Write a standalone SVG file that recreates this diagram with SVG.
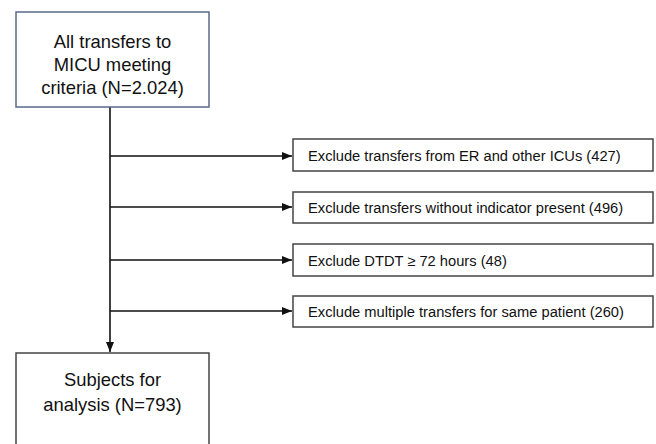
<svg xmlns="http://www.w3.org/2000/svg" width="656" height="444" viewBox="0 0 656 444">
<defs>
<marker id="ah" markerWidth="10" markerHeight="8" refX="10" refY="4" orient="auto" markerUnits="userSpaceOnUse">
<path d="M0,0 L10,4 L0,8 Z" fill="#111"/>
</marker>
<style>
.box{fill:#fff;stroke:#444;stroke-width:1.5}
.t{font-family:"Liberation Sans",Arial,sans-serif;fill:#111}
.big{font-size:18.4px;text-anchor:middle}
.sm{font-size:14.7px}
.ln{stroke:#111;stroke-width:1.6;fill:none}
</style>
</defs>
<rect width="656" height="444" fill="#fff"/>
<g id="connectors">
<line class="ln" x1="110" y1="107" x2="110" y2="352" marker-end="url(#ah)"/>
<line class="ln" x1="110" y1="156" x2="292" y2="156" marker-end="url(#ah)"/>
<line class="ln" x1="110" y1="207" x2="292" y2="207" marker-end="url(#ah)"/>
<line class="ln" x1="110" y1="260" x2="292" y2="260" marker-end="url(#ah)"/>
<line class="ln" x1="110" y1="311" x2="292" y2="311" marker-end="url(#ah)"/>
</g>
<g id="start">
<rect class="box" x="16" y="12" width="193" height="95" style="stroke:#5a6a88"/>
<text class="t big" x="112.5" y="48">All transfers to</text>
<text class="t big" x="112.5" y="71">MICU meeting</text>
<text class="t big" x="112.5" y="94">criteria (N=2.024)</text>
</g>
<g id="ex1">
<rect class="box" x="293" y="139" width="360" height="32"/>
<text class="t sm" x="308" y="160.5">Exclude transfers from ER and other ICUs (427)</text>
</g>
<g id="ex2">
<rect class="box" x="293" y="192" width="360" height="31"/>
<text class="t sm" x="308" y="212.5">Exclude transfers without indicator present (496)</text>
</g>
<g id="ex3">
<rect class="box" x="293" y="244" width="360" height="32"/>
<text class="t sm" x="308" y="265.5">Exclude DTDT ≥ 72 hours (48)</text>
</g>
<g id="ex4">
<rect class="box" x="293" y="296" width="360" height="31"/>
<text class="t sm" x="308" y="316.5">Exclude multiple transfers for same patient (260)</text>
</g>
<g id="end">
<rect class="box" x="16" y="353" width="193" height="100"/>
<text class="t big" x="112.5" y="386">Subjects for</text>
<text class="t big" x="112.5" y="411">analysis (N=793)</text>
</g>
</svg>
